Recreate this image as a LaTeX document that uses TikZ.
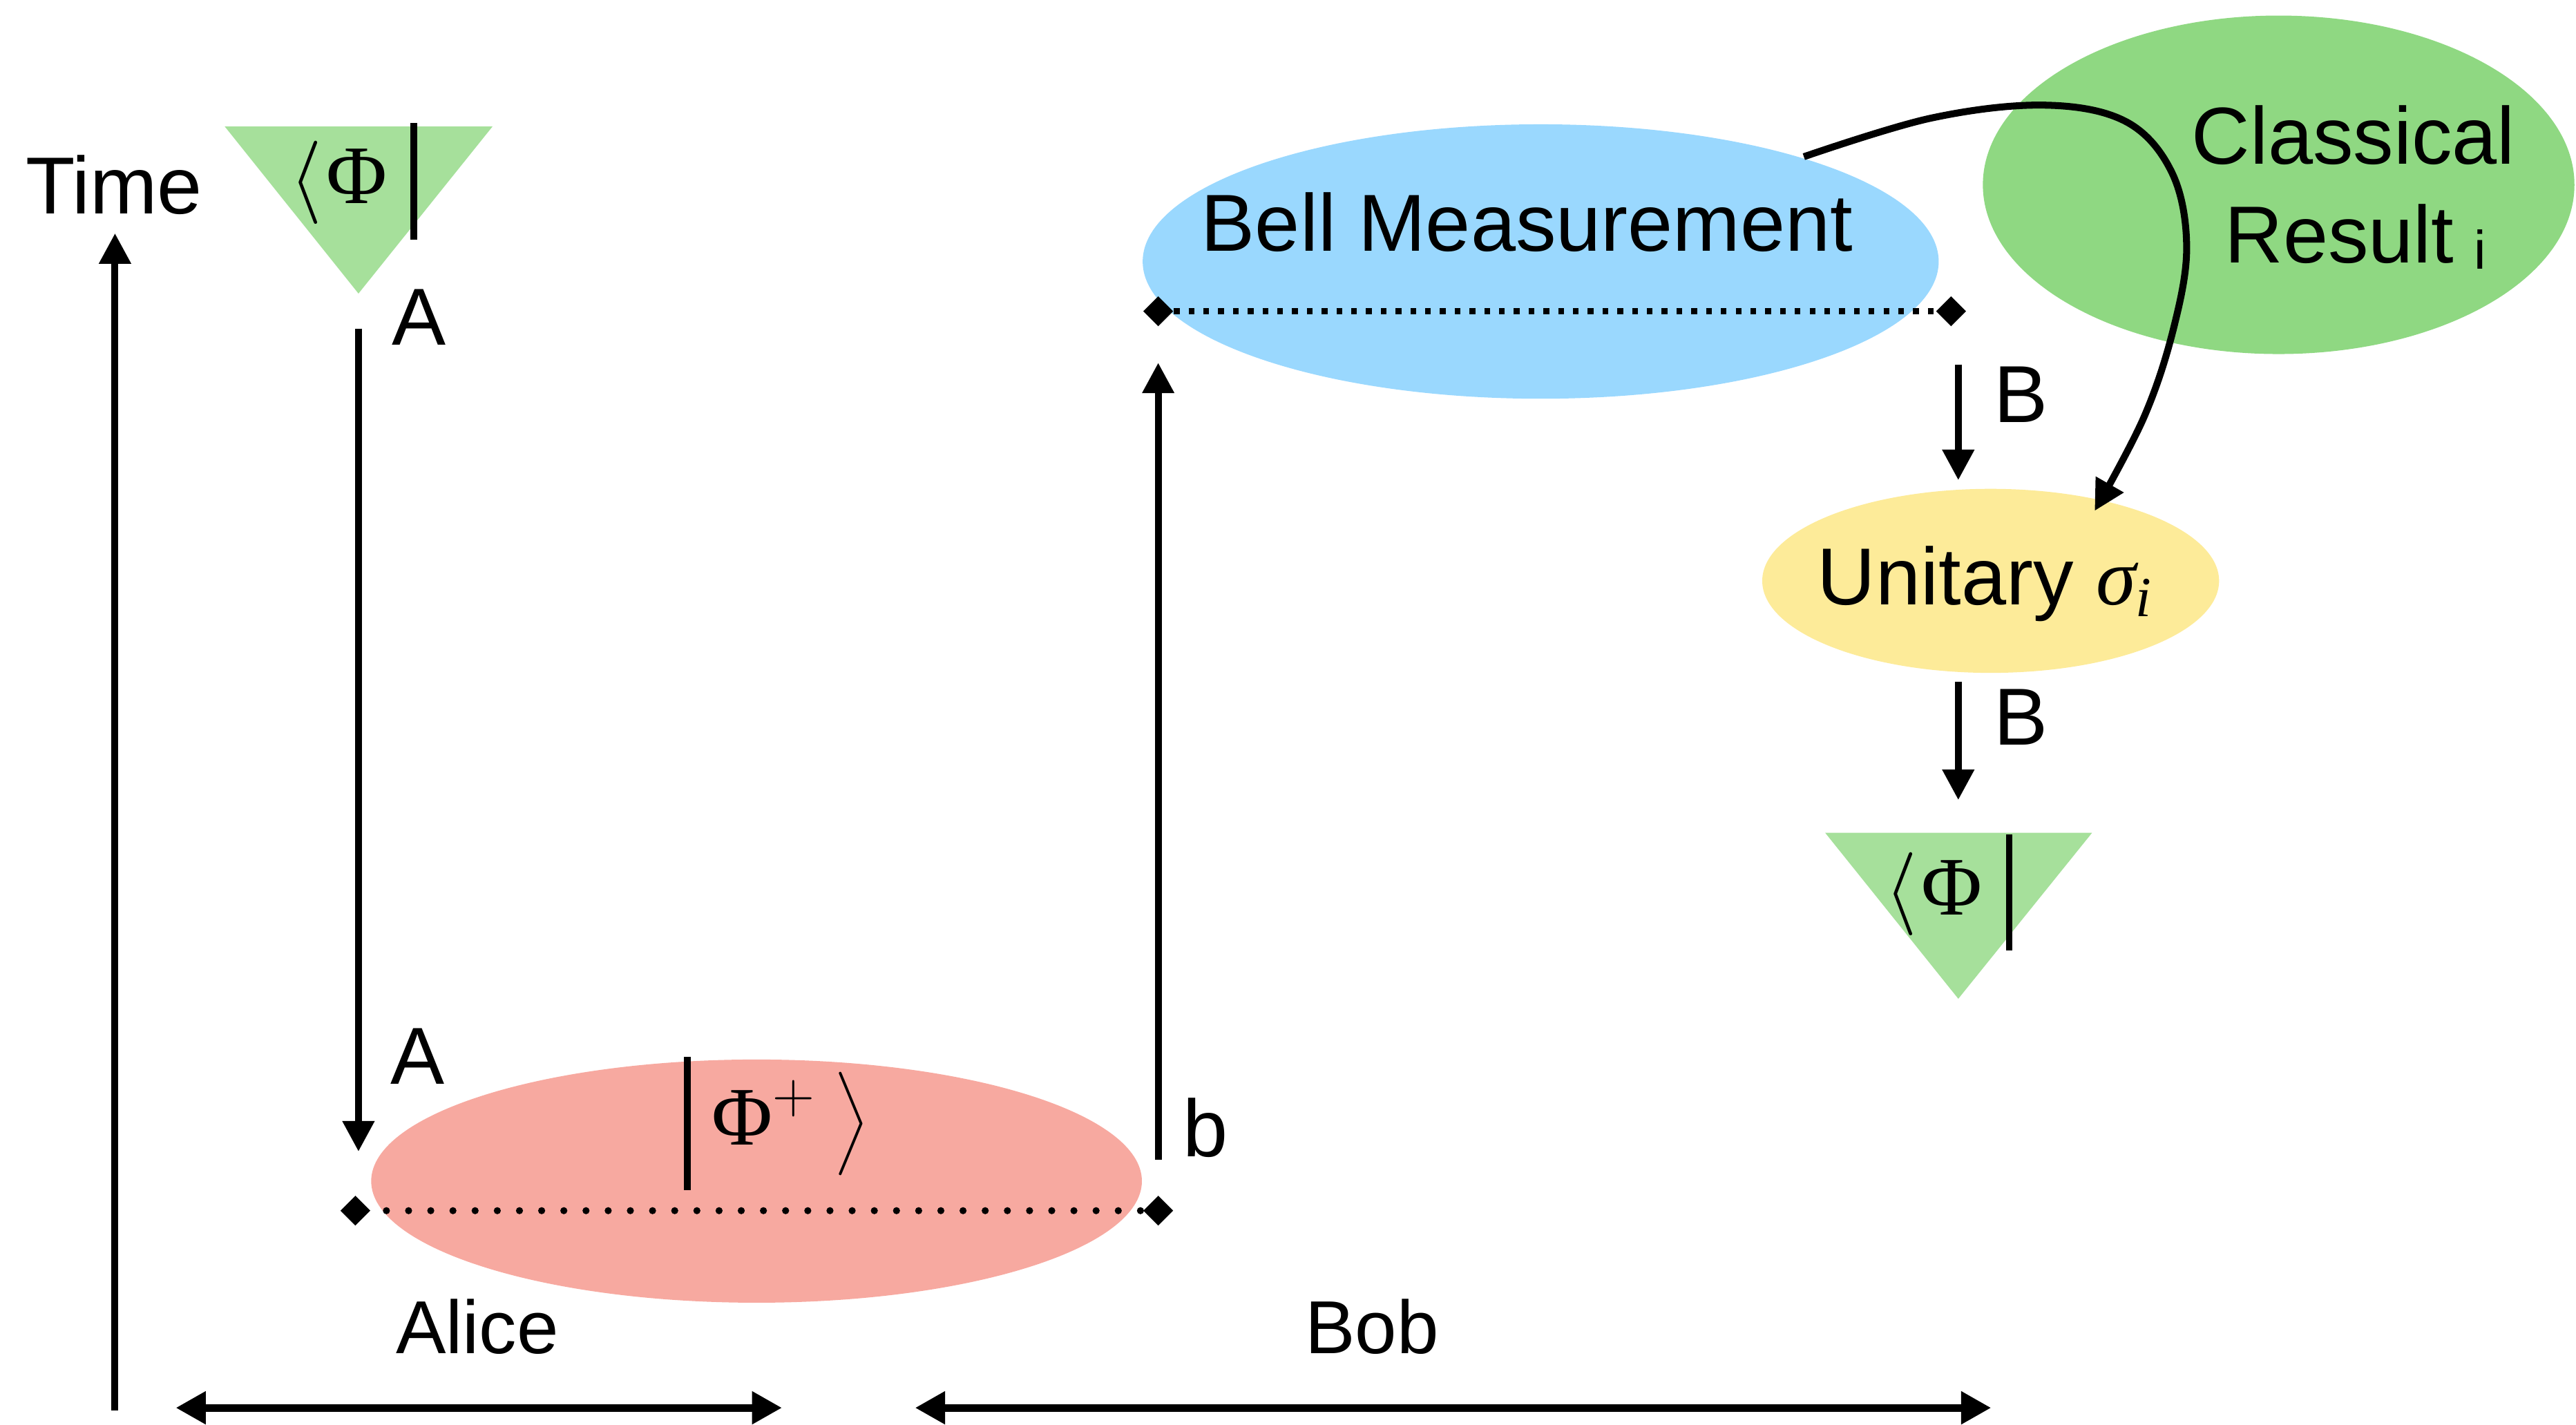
\RequirePackage{fix-cm}
\documentclass[tikz,border=0pt]{standalone}
\usepackage{amsmath}
\usepackage[no-math]{fontspec}
\setmainfont{Liberation Sans}
\newfontfamily\grk{Liberation Serif}
\usetikzlibrary{arrows.meta,shapes.geometric}
\definecolor{braGreen}{RGB}{166,224,155}
\definecolor{resGreen}{RGB}{143,216,130}
\definecolor{bellBlue}{RGB}{154,216,254}
\definecolor{pairRed}{RGB}{247,169,160}
\definecolor{opYellow}{RGB}{253,235,153}
\newcommand{\PhiSym}{\text{\grk Φ}}
\begin{document}
\begin{tikzpicture}[x=0.025cm,y=-0.025cm,
  lbl/.style={inner sep=0pt, font=\fontsize{35}{40}\selectfont},
  side/.style={inner sep=0pt, font=\fontsize{32.5}{38}\selectfont},
  mth/.style={inner sep=0pt, font=\fontsize{36}{40}\selectfont},
  blob/.style={ellipse, inner sep=0pt, draw=none},
  tipmark/.style={diamond, fill=black, inner sep=0pt, minimum width=0.46cm, minimum height=0.46cm},
  flow/.style={line width=3pt, -{Triangle[length=13.2pt,width=13.2pt]}},
  span/.style={line width=3.3pt, {Triangle[length=13pt,width=13.5pt]}-{Triangle[length=13pt,width=13.5pt]}},
  ketbar/.style={line width=2.9pt},
]
\useasboundingbox (0,0) rectangle (1568,867.47);

% coloured regions
\node[blob, fill=pairRed, minimum width=11.725cm, minimum height=3.7cm] (pair) at (460.5,719) {};
\node[blob, fill=bellBlue, minimum width=12.11cm, minimum height=4.175cm] (bell) at (937.8,159.2) {};
\node[blob, fill=resGreen, minimum width=9cm, minimum height=5.15cm] (result) at (1387,112.5) {};
\node[blob, fill=opYellow, minimum width=6.95cm, minimum height=2.8cm] (unitary) at (1211.7,353.6) {};

% bra triangles
\fill[braGreen] (136.8,77) coordinate (braAl) -- (299.8,77) coordinate (braAr) -- (218.2,178.7) coordinate (braAb) -- cycle;
\fill[braGreen] (1111,507) coordinate (braBl) -- (1273.4,507) coordinate (braBr) -- (1192,608) coordinate (braBb) -- cycle;
\node[mth, anchor=base west] (braA) at (176,124) {$\langle\mkern1mu\PhiSym$};
\draw[ketbar] (252,75) -- (252,146);
\node[mth, anchor=base west] (braB) at (1147,557) {$\langle\mkern1mu\PhiSym$};
\draw[ketbar] (1223,508) -- (1223,578.4);

% time axis
\node[lbl, anchor=base] (timeLbl) at (69.4,130) {Time};
\coordinate (timeFoot) at (70,858.6);
\coordinate (timeHead) at (70,142);
\draw[flow] (timeFoot) -- (timeHead);

% Alice's qubit A
\coordinate (aTop) at (218.2,200);
\coordinate (aBot) at (218.2,701);
\draw[flow] (aTop) -- (aBot);
\node[lbl, anchor=base] (aUp) at (255,210) {A};
\node[lbl, anchor=base] (aDown) at (254,660) {A};

% entangled pair
\node[tipmark] (pL) at (216.3,737) {};
\node[tipmark] (pR) at (705,737) {};
\draw[line width=3.06pt, line cap=round, dash pattern=on 0pt off 9.6pt, dash phase=2.9pt] (pL) -- (pR);
\draw[ketbar] (418.4,643.4) -- (418.4,724.4);
\node[mth, anchor=base west] (ket) at (433,697) {$\PhiSym^{+}\mkern4mu\bigr\rangle$};

% qubit b travelling up to the measurement
\coordinate (bFoot) at (705,706);
\coordinate (bHead) at (705,220.8);
\draw[flow] (bFoot) -- (bHead);
\node[lbl, anchor=base west] (bLbl) at (720,704) {b};

% Bell measurement
\node[lbl, anchor=base] (bellLbl) at (929.5,152.8) {Bell Measurement};
\node[tipmark] (mL) at (705,189.5) {};
\node[tipmark] (mR) at (1187.6,189.5) {};
\draw[line width=2.5pt, dash pattern=on 2.5pt off 3.9pt] (mL) -- (mR);

% classical result
\node[lbl, anchor=base] (clsLbl) at (1432.5,99.7) {Classical};
\node[lbl, anchor=base west] (resLbl) at (1354,160) {Result};
\node[inner sep=0pt, anchor=base west, font=\fontsize{23.5}{26}\selectfont] (resIdx) at (1505.5,163.6) {i};

% Bob's qubit B
\coordinate (b1s) at (1192,221.9);
\coordinate (b1e) at (1192,292.3);
\draw[flow] (b1s) -- (b1e);
\node[lbl, anchor=base] (bOne) at (1230,257) {B};
\node[lbl, anchor=base west] (uLbl) at (1106,368) {Unitary $\text{\grk\itshape σ}_{\text{\grk\itshape i}}$};
\coordinate (b2s) at (1192,415);
\coordinate (b2e) at (1192,487);
\draw[flow] (b2s) -- (b2e);
\node[lbl, anchor=base] (bTwo) at (1230,453.6) {B};

% classical channel
\coordinate (cStart) at (1098,95.4);
\coordinate (cEnd) at (1275,311);
\draw[flow] plot[smooth, tension=0.6] coordinates {(cStart) (1175,72) (1244,64) (1294,74) (1322,105) (1331,150) (1323,200) (1305,254) (cEnd)};

% parties
\node[side, anchor=base] (aliceLbl) at (290.5,824) {Alice};
\node[side, anchor=base] (bobLbl) at (835,824) {Bob};
\coordinate (aliceL) at (107,857);
\coordinate (aliceR) at (476,857);
\coordinate (bobL) at (557,857);
\coordinate (bobR) at (1212,857);
\draw[span] (aliceL) -- (aliceR);
\draw[span] (bobL) -- (bobR);
\end{tikzpicture}
\end{document}
